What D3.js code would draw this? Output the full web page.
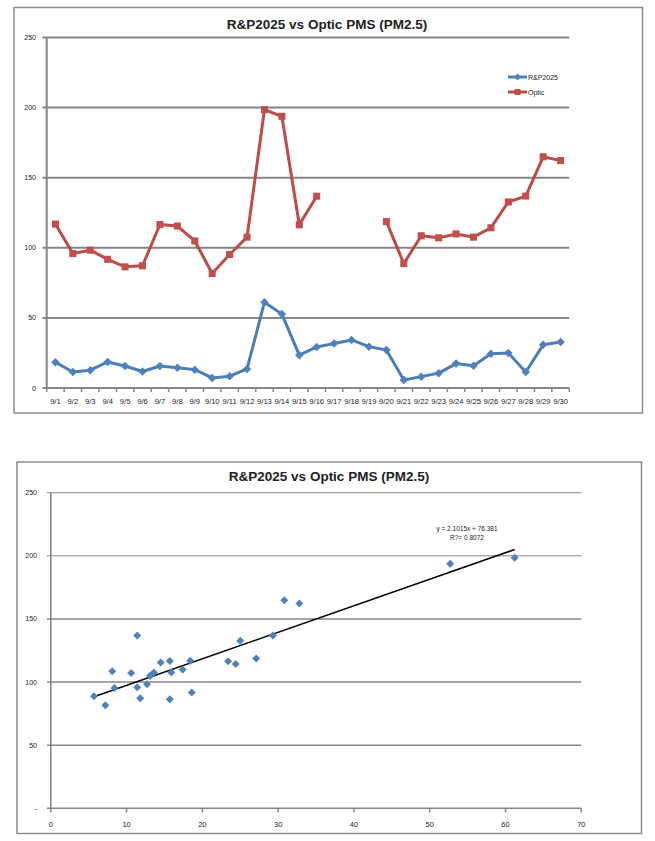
<!DOCTYPE html>
<html><head><meta charset="utf-8">
<script src="https://cdn.jsdelivr.net/npm/d3@7"></script>
<style>body{margin:0;background:#fff}svg{display:block}text{font-family:"Liberation Sans",Arial,sans-serif}</style>
</head><body>
<script>
const dates = ["9/1","9/2","9/3","9/4","9/5","9/6","9/7","9/8","9/9","9/10","9/11","9/12","9/13","9/14","9/15","9/16","9/17","9/18","9/19","9/20","9/21","9/22","9/23","9/24","9/25","9/26","9/27","9/28","9/29","9/30"];
const rp = [18.4,11.4,12.7,18.6,15.7,11.8,15.7,14.5,13.1,7.2,8.4,13.6,61.2,52.7,23.4,29.3,31.7,34.3,29.5,27.1,5.7,8.1,10.6,17.4,15.9,24.4,25.0,11.4,30.8,32.8];
const optic = [116.9,95.9,98.3,91.8,86.4,87.2,116.6,115.5,104.9,81.7,95.2,107.6,198.5,193.8,116.4,136.8,null,null,null,118.7,88.7,108.6,107.1,109.9,107.6,114.3,132.7,136.9,164.9,162.2];
const seriesNames = ["R&P2025","Optic"];
const yTicks = [0,50,100,150,200,250];
const xTicksScatter = [0,10,20,30,40,50,60,70];
const trendSlope = 2.1015, trendIntercept = 76.381;
const trendLabel = ["y = 2.1015x + 76.381","R?= 0.8072"];
const title = "R&P2025 vs Optic PMS (PM2.5)";

const W=655,H=841;
const svg=d3.select("body").append("svg").attr("width",W).attr("height",H);
const blue="#4A7EBB", blueM="#4F81BD", red="#BE4B48", redM="#C0504D", grid="#868686";
const sqSym=s=>d3.symbol().type(d3.symbolSquare).size(s)();

// ---------- top line chart ----------
svg.append("rect").attr("x",14).attr("y",7.5).attr("width",628.5).attr("height",405.5)
  .attr("fill","#fff").attr("stroke","#8c8c8c").attr("stroke-width",1.5);
svg.append("text").attr("x",327).attr("y",29).attr("text-anchor","middle")
  .attr("font-size",13.5).attr("font-weight","bold").attr("fill","#222").text(title);

const x1=d3.scaleBand().domain(dates).range([46.7,569.3]);
const y1=d3.scaleLinear().domain([0,250]).range([388,37.5]);
const g1=svg.append("g");
g1.selectAll("line.gr").data(yTicks).join("line")
  .attr("x1",42.5).attr("x2",569.3).attr("y1",d=>y1(d)).attr("y2",d=>y1(d))
  .attr("stroke",grid).attr("stroke-width",2);
g1.append("line").attr("x1",46.7).attr("x2",46.7).attr("y1",37.5).attr("y2",388).attr("stroke",grid).attr("stroke-width",2);
g1.selectAll("text.yl").data(yTicks).join("text")
  .attr("x",36).attr("y",d=>y1(d)+2.5).attr("text-anchor","end").attr("font-size",7).attr("fill","#222").text(d=>d);
const bounds=dates.map(d=>x1(d)).concat([x1.range()[1]]);
g1.selectAll("line.xt").data(bounds).join("line")
  .attr("x1",d=>d).attr("x2",d=>d).attr("y1",388).attr("y2",392).attr("stroke",grid).attr("stroke-width",1.5);
g1.selectAll("text.xl").data(dates).join("text")
  .attr("x",d=>x1(d)+x1.bandwidth()/2).attr("y",404).attr("text-anchor","middle")
  .attr("font-size",7.6).attr("fill","#222").text(d=>d);

const cx=d=>x1(d)+x1.bandwidth()/2;
const line=d3.line().defined(d=>d.v!=null).x(d=>cx(d.k)).y(d=>y1(d.v));
const rpD=dates.map((k,i)=>({k,v:rp[i]}));
const opD=dates.map((k,i)=>({k,v:optic[i]}));
g1.append("path").attr("d",line(opD)).attr("fill","none").attr("stroke",red).attr("stroke-width",3).attr("stroke-linejoin","round");
g1.append("path").attr("d",line(rpD)).attr("fill","none").attr("stroke",blue).attr("stroke-width",3).attr("stroke-linejoin","round");
g1.selectAll("path.sq").data(opD.filter(d=>d.v!=null)).join("path")
  .attr("d",sqSym(50)).attr("transform",d=>`translate(${cx(d.k)},${y1(d.v)})`).attr("fill",redM);
g1.selectAll("path.dm").data(rpD).join("path")
  .attr("d",sqSym(36)).attr("transform",d=>`translate(${cx(d.k)},${y1(d.v)}) rotate(45)`).attr("fill",blueM);

// legend
const lg=svg.append("g");
[[blue,blueM,"d"],[red,redM,"s"]].forEach((c,i)=>{
  const yy=77+i*15;
  lg.append("line").attr("x1",508).attr("x2",527).attr("y1",yy).attr("y2",yy).attr("stroke",c[0]).attr("stroke-width",3);
  lg.append("path").attr("d",c[2]==="d"?sqSym(24):sqSym(36))
    .attr("transform",`translate(517.5,${yy})`+(c[2]==="d"?" rotate(45)":"")).attr("fill",c[1]);
  lg.append("text").attr("x",528).attr("y",yy+2.5).attr("font-size",7).attr("fill","#222").text(seriesNames[i]);
});

// ---------- bottom scatter ----------
svg.append("rect").attr("x",17).attr("y",462).attr("width",624.5).attr("height",371.5)
  .attr("fill","#fff").attr("stroke","#8c8c8c").attr("stroke-width",1.5);
svg.append("text").attr("x",329).attr("y",481).attr("text-anchor","middle")
  .attr("font-size",13.5).attr("font-weight","bold").attr("fill","#222").text(title);
const x2=d3.scaleLinear().domain([0,70]).range([50.8,581.3]);
const y2=d3.scaleLinear().domain([0,250]).range([808.3,492.7]);
const g2=svg.append("g");
g2.selectAll("line.gr").data(yTicks).join("line")
  .attr("x1",47).attr("x2",581.3).attr("y1",d=>y2(d)).attr("y2",d=>y2(d))
  .attr("stroke",grid).attr("stroke-width",d=>d>=200?1:1.6);
g2.append("line").attr("x1",50.8).attr("x2",50.8).attr("y1",492.7).attr("y2",808.3).attr("stroke",grid).attr("stroke-width",1.6);
g2.selectAll("text.yl").data(yTicks).join("text")
  .attr("x",37).attr("y",d=>y2(d)+2.5).attr("text-anchor","end").attr("font-size",7).attr("fill","#222")
  .text(d=>d===0?"-":d);
g2.selectAll("line.xt").data(xTicksScatter).join("line")
  .attr("x1",d=>x2(d)).attr("x2",d=>x2(d)).attr("y1",808.3).attr("y2",812.5).attr("stroke",grid).attr("stroke-width",1.5);
g2.selectAll("text.xl").data(xTicksScatter).join("text")
  .attr("x",d=>x2(d)).attr("y",827).attr("text-anchor","middle").attr("font-size",7.5).attr("fill","#222").text(d=>d);
const pairs=rp.map((v,i)=>({x:v,y:optic[i]})).filter(d=>d.y!=null);
const xmin=d3.min(pairs,d=>d.x), xmax=d3.max(pairs,d=>d.x);
g2.append("line").attr("x1",x2(xmin)).attr("x2",x2(xmax))
  .attr("y1",y2(trendSlope*xmin+trendIntercept)).attr("y2",y2(trendSlope*xmax+trendIntercept))
  .attr("stroke","#000").attr("stroke-width",1.5);
g2.selectAll("path.pt").data(pairs).join("path")
  .attr("d",sqSym(32)).attr("transform",d=>`translate(${x2(d.x)},${y2(d.y)}) rotate(45)`).attr("fill",blueM);
trendLabel.forEach((t,i)=>{
  g2.append("text").attr("x",467).attr("y",530.5+i*9).attr("text-anchor","middle").attr("font-size",6.5).attr("fill","#222").text(t);
});
</script>
</body></html>
